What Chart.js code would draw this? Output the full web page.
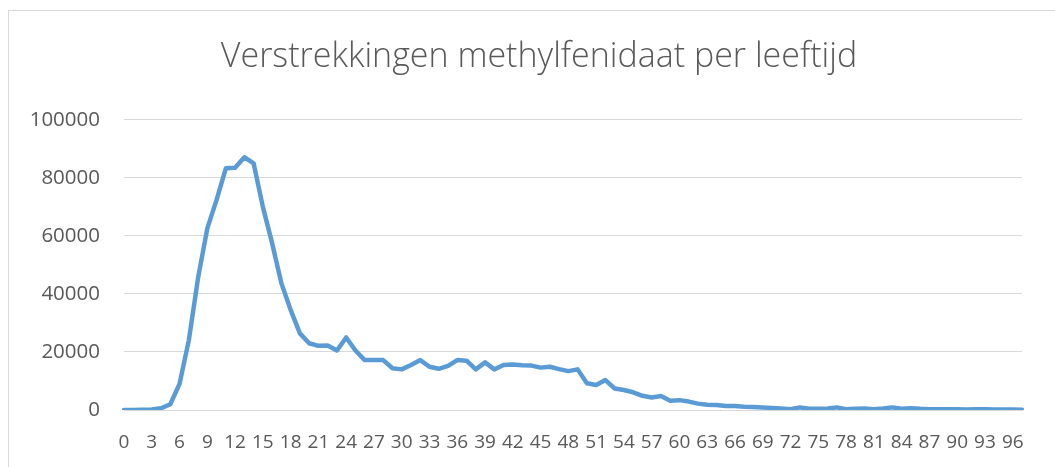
<!DOCTYPE html>
<html>
<head>
<meta charset="utf-8">
<script src="https://cdn.jsdelivr.net/npm/chart.js@4/dist/chart.umd.min.js"></script>
<style>
  html, body { margin: 0; padding: 0; background: #fff; overflow: hidden; }
  #wrap { position: relative; width: 1055px; height: 467px; }
  #frame { position: absolute; left: 8px; top: 10px; width: 1200px; height: 600px; border: 1px solid #d9d9d9; box-sizing: border-box; }
  canvas { position: absolute; left: 0; top: 0; }
</style>
</head>
<body>
<div id="wrap">
  <div id="frame"></div>
  <canvas id="c" width="1055" height="467"></canvas>
</div>
<script>
const TITLE = "Verstrekkingen methylfenidaat per leeftijd";
const ages = Array.from({length: 98}, (_, i) => String(i));
const yTicks = [0, 20000, 40000, 60000, 80000, 100000];
const verstrekkingen = [
  0, 0, 100, 200, 600, 2000, 9000, 24000, 45500, 62600,
  72400, 83300, 83500, 87100, 85000, 70000, 57500, 43700, 34500, 26400,
  23000, 22100, 22200, 20500, 25000, 20500, 17200, 17200, 17200, 14400,
  14000, 15500, 17200, 14900, 14200, 15200, 17200, 17000, 14000, 16400,
  14000, 15500, 15700, 15400, 15300, 14600, 14900, 14100, 13400, 14000,
  9200, 8600, 10300, 7400, 6900, 6100, 4900, 4300, 4800, 3200,
  3400, 2900, 2200, 1800, 1700, 1400, 1400, 1100, 1000, 900,
  700, 500, 300, 900, 400, 400, 500, 900, 300, 400,
  500, 300, 500, 900, 400, 600, 400, 300, 300, 300,
  300, 200, 300, 300, 200, 200, 200, 100
];

const txt = '#595959';
const shiftTitle = {
  id: 'shiftTitle',
  afterLayout(chart) {
    const t = chart.titleBlock;
    if (t) { t.left = 56; t.width = t.right - t.left; }
  }
};
new Chart(document.getElementById('c'), {
  type: 'line',
  data: {
    labels: ages,
    datasets: [{
      data: verstrekkingen,
      borderColor: '#5B9BD5',
      backgroundColor: '#5B9BD5',
      borderWidth: 4.5,
      pointRadius: 0,
      tension: 0,
      borderJoinStyle: 'round',
      borderCapStyle: 'round'
    }]
  },
  plugins: [shiftTitle],
  options: {
    responsive: false,
    animation: false,
    layout: { padding: { left: 0, right: 33, top: 0, bottom: 0 } },
    plugins: {
      legend: { display: false },
      tooltip: { enabled: false },
      title: {
        display: true,
        text: TITLE,
        color: txt,
        font: { family: 'Open Sans', size: 34, weight: 300, lineHeight: 1.2 },
        padding: { top: 37, bottom: 42 }
      }
    },
    scales: {
      x: {
        type: 'category',
        offset: false,
        grid: { display: false, drawTicks: false },
        border: { display: true, color: '#d9d9d9', width: 1 },
        ticks: {
          autoSkip: false, maxRotation: 0, minRotation: 0,
          color: txt, padding: 21,
          font: { family: 'Open Sans', size: 19 },
          callback: function(v, i) { return i % 3 === 0 ? ages[i] : null; }
        },
        afterFit: function(s) { s.height = 57; }
      },
      y: {
        min: 0, max: 100000,
        grid: { color: '#d9d9d9', lineWidth: 1, drawTicks: false },
        border: { display: false },
        afterBuildTicks: function(s) { s.ticks = yTicks.map(v => ({ value: v })); },
        ticks: {
          color: txt, padding: 24,
          font: { family: 'Open Sans', size: 20.5 },
          callback: function(v) { return String(v); }
        },
        afterFit: function(s) { s.width = 124; }
      }
    }
  }
});
</script>
</body>
</html>
